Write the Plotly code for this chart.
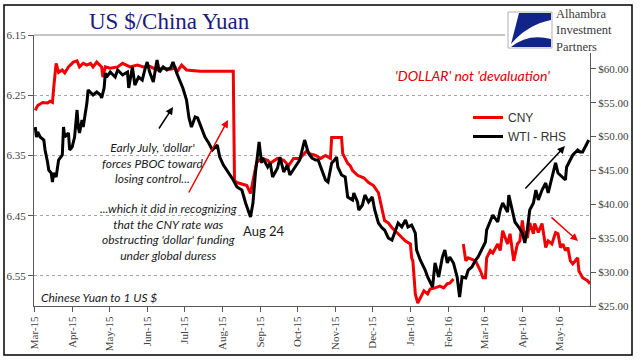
import plotly.graph_objects as go

# ---------------- data ----------------
cny_dates = ["2015-03-02","2015-03-04","2015-03-08","2015-03-12","2015-03-14","2015-03-16","2015-03-17","2015-03-19","2015-03-21","2015-03-24",
             "2015-03-26","2015-03-29","2015-04-02","2015-04-05","2015-04-07","2015-04-10","2015-04-13","2015-04-16","2015-04-18","2015-04-21",
             "2015-04-25","2015-04-26","2015-04-28","2015-05-02","2015-05-08","2015-05-12","2015-05-18","2015-05-24","2015-05-29","2015-06-03",
             "2015-06-09","2015-06-14","2015-06-20","2015-06-24","2015-06-25","2015-06-29","2015-07-03","2015-07-14","2015-08-10","2015-08-11",
             "2015-08-13","2015-08-17","2015-08-21","2015-08-24","2015-08-25","2015-08-28","2015-08-29","2015-09-02","2015-09-07","2015-09-09",
             "2015-09-15","2015-09-20","2015-09-24","2015-09-28","2015-10-03","2015-10-09","2015-10-11","2015-10-16","2015-10-20","2015-10-24",
             "2015-10-28","2015-10-29","2015-11-01","2015-11-03","2015-11-06","2015-11-07","2015-11-11","2015-11-13","2015-11-15","2015-11-19",
             "2015-11-24","2015-11-28","2015-12-02","2015-12-06","2015-12-09","2015-12-11","2015-12-14","2015-12-17","2015-12-22","2015-12-28",
             "2016-01-01","2016-01-02","2016-01-03","2016-01-05","2016-01-07","2016-01-11","2016-01-12","2016-01-15","2016-01-17","2016-01-21",
             "2016-01-25","2016-01-28","2016-01-31","2016-02-02","2016-02-05","2016-02-09","2016-02-13","2016-02-15","2016-02-17","2016-02-20",
             "2016-02-23","2016-02-27","2016-02-29","2016-03-02","2016-03-03","2016-03-06","2016-03-08","2016-03-12","2016-03-14","2016-03-16",
             "2016-03-20","2016-03-22","2016-03-25","2016-03-28","2016-03-30","2016-04-01","2016-04-02","2016-04-05","2016-04-07","2016-04-10",
             "2016-04-11","2016-04-14","2016-04-17","2016-04-20","2016-04-22","2016-04-25","2016-04-28","2016-04-30","2016-05-02","2016-05-04",
             "2016-05-06","2016-05-08","2016-05-10","2016-05-12","2016-05-16","2016-05-17","2016-05-20","2016-05-24","2016-05-26"]
cny_values = [6.275,6.267,6.262,6.263,6.260,6.262,6.238,6.197,6.212,6.208,
              6.213,6.203,6.195,6.193,6.203,6.197,6.200,6.197,6.203,6.195,
              6.203,6.220,6.203,6.205,6.203,6.197,6.203,6.200,6.203,6.202,
              6.208,6.205,6.207,6.205,6.212,6.200,6.208,6.210,6.210,6.392,
              6.395,6.397,6.400,6.413,6.403,6.375,6.362,6.355,6.358,6.363,
              6.355,6.358,6.367,6.355,6.355,6.342,6.347,6.350,6.355,6.350,
              6.355,6.320,6.320,6.320,6.320,6.347,6.363,6.367,6.375,6.383,
              6.387,6.395,6.400,6.412,6.442,6.458,6.462,6.470,6.480,6.492,
              6.497,6.520,6.525,6.580,6.595,6.580,6.575,6.580,6.572,6.570,
              6.567,6.570,6.563,6.562,6.555,None,6.497,6.525,6.520,6.522,
              6.525,6.542,6.553,6.553,6.520,6.508,6.512,6.497,6.508,6.475,
              6.497,6.480,6.525,6.497,6.492,6.458,6.475,6.487,6.462,6.480,
              6.463,6.478,6.463,6.503,6.492,6.497,6.478,6.480,6.503,6.497,
              6.508,6.503,6.525,6.530,6.520,6.542,6.553,6.558,6.563]

wti_dates = ["2015-03-02","2015-03-03","2015-03-04","2015-03-06","2015-03-09","2015-03-10","2015-03-12","2015-03-13","2015-03-15","2015-03-16",
             "2015-03-17","2015-03-19","2015-03-21","2015-03-24","2015-03-25","2015-03-26","2015-03-29","2015-03-30","2015-04-01","2015-04-03",
             "2015-04-05","2015-04-06","2015-04-07","2015-04-09","2015-04-10","2015-04-13","2015-04-14","2015-04-16","2015-04-18","2015-04-21",
             "2015-04-24","2015-04-25","2015-04-27","2015-04-28","2015-04-29","2015-05-02","2015-05-06","2015-05-08","2015-05-12","2015-05-16",
             "2015-05-17","2015-05-20","2015-05-22","2015-05-25","2015-05-28","2015-05-30","2015-06-01","2015-06-03","2015-06-06","2015-06-09",
             "2015-06-11","2015-06-14","2015-06-17","2015-06-20","2015-06-22","2015-06-25","2015-06-28","2015-06-30","2015-07-03","2015-07-05",
             "2015-07-07","2015-07-10","2015-07-12","2015-07-16","2015-07-18","2015-07-21","2015-07-24","2015-07-28","2015-07-30","2015-08-02",
             "2015-08-06","2015-08-10","2015-08-13","2015-08-17","2015-08-20","2015-08-24","2015-08-26","2015-08-28","2015-08-31","2015-09-02",
             "2015-09-03","2015-09-07","2015-09-09","2015-09-11","2015-09-15","2015-09-17","2015-09-20","2015-09-23","2015-09-25","2015-09-29",
             "2015-10-03","2015-10-07","2015-10-10","2015-10-13","2015-10-16","2015-10-18","2015-10-21","2015-10-24","2015-10-26","2015-10-29",
             "2015-10-30","2015-11-02","2015-11-03","2015-11-06","2015-11-09","2015-11-11","2015-11-15","2015-11-16","2015-11-19","2015-11-20",
             "2015-11-23","2015-11-25","2015-11-28","2015-12-01","2015-12-03","2015-12-06","2015-12-09","2015-12-11","2015-12-14","2015-12-17",
             "2015-12-20","2015-12-22","2015-12-25","2015-12-28","2015-12-30","2016-01-02","2016-01-05","2016-01-06","2016-01-09","2016-01-11",
             "2016-01-13","2016-01-15","2016-01-19","2016-01-21","2016-01-24","2016-01-27","2016-01-29","2016-01-31","2016-02-02","2016-02-05",
             "2016-02-08","2016-02-10","2016-02-12","2016-02-15","2016-02-17","2016-02-20","2016-02-23","2016-02-25","2016-02-28","2016-03-02",
             "2016-03-03","2016-03-06","2016-03-08","2016-03-12","2016-03-14","2016-03-16","2016-03-20","2016-03-21","2016-03-24","2016-03-26",
             "2016-03-29","2016-04-01","2016-04-03","2016-04-05","2016-04-07","2016-04-10","2016-04-12","2016-04-14","2016-04-17","2016-04-20",
             "2016-04-22","2016-04-25","2016-04-28","2016-04-30","2016-05-03","2016-05-06","2016-05-07","2016-05-10","2016-05-12","2016-05-16",
             "2016-05-18","2016-05-20","2016-05-24","2016-05-25"]
wti_values = [51.42,49.94,50.68,49.94,49.50,48.03,46.25,45.07,44.63,43.30,
              44.63,44.04,46.55,47.29,51.42,49.94,50.54,48.03,48.47,49.94,
              53.93,51.42,50.54,52.45,51.42,54.96,56.88,56.44,56.14,56.59,
              56.14,55.70,57.18,59.39,58.80,59.54,58.80,59.83,59.10,59.54,
              57.18,60.28,57.62,58.80,58.36,59.83,61.01,59.54,58.06,61.31,
              59.54,60.28,59.83,60.13,61.01,59.39,58.06,57.18,55.41,52.75,
              51.42,52.90,52.75,50.98,49.94,49.06,48.03,48.76,46.99,45.81,
              44.78,43.60,42.56,42.12,40.20,38.14,40.20,44.63,49.21,46.11,
              46.85,45.52,46.11,44.04,45.37,46.99,44.78,45.81,44.34,45.37,
              46.55,49.50,47.58,46.85,46.55,46.55,45.07,43.60,43.30,46.11,
              46.25,46.99,45.52,44.34,44.04,41.09,40.65,41.68,40.35,39.17,
              39.91,41.38,40.35,41.09,39.17,37.25,36.51,36.22,35.04,34.74,
              36.22,37.25,36.66,37.69,36.66,36.96,35.77,33.27,31.79,31.05,
              30.31,29.28,27.80,31.35,29.28,32.23,33.27,31.35,32.23,31.35,
              29.28,26.33,29.28,29.13,30.31,30.76,31.79,32.23,33.27,34.45,
              36.22,37.69,38.43,37.40,39.17,40.20,38.87,41.38,38.87,37.40,
              36.66,35.77,34.30,36.22,39.17,40.20,42.12,40.65,42.12,43.15,
              41.68,44.04,46.11,44.63,44.04,43.60,45.52,46.55,47.29,48.03,
              47.73,47.73,49.21,49.50]

cny_ticks = [6.15, 6.25, 6.35, 6.45, 6.55]
wti_ticks = [25, 30, 35, 40, 45, 50, 55, 60]

# ---------------- layout helpers ----------------
W, H = 641, 361
L, R, T, B = 34, 590, 35, 306


def px(x, y):
    return (x - L) / (R - L), (B - y) / (B - T)


fig = go.Figure()
fig.add_trace(go.Scatter(x=cny_dates, y=cny_values, name="CNY", mode="lines",
                         line=dict(color="#f00000", width=3), connectgaps=False, yaxis="y"))
fig.add_trace(go.Scatter(x=wti_dates, y=wti_values, name="WTI - RHS", mode="lines",
                         line=dict(color="#000000", width=3), yaxis="y2"))

serif = "Liberation Serif"
sans = "Lato"
tickcol = "#404040"

fig.update_layout(
    template="none",
    width=W, height=H,
    margin=dict(l=L, r=W - R, t=T, b=H - B, pad=0),
    paper_bgcolor="white", plot_bgcolor="white",
    showlegend=True,
    legend=dict(x=px(468, 0)[0], y=px(0, 103)[1], xanchor="left", yanchor="top",
                bgcolor="rgba(0,0,0,0)", font=dict(family="Liberation Sans", size=12, color="#333333"),
                itemwidth=30, tracegroupgap=0),
    xaxis=dict(type="date", range=["2015-03-01", "2016-05-26"], dtick="M1", tick0="2015-03-01",
               tickformat="%b-%y", tickangle=-90, ticks="outside", ticklen=5, tickcolor="#595959",
               showline=True, linecolor="#595959", linewidth=1, showgrid=False, zeroline=False,
               tickfont=dict(family=serif, size=11, color=tickcol), automargin=False),
    yaxis=dict(range=[6.60, 6.15], tickvals=cny_ticks, ticktext=[f"{v:.2f}" for v in cny_ticks],
               ticks="outside", ticklen=5, tickcolor="#595959", showline=True, linecolor="#595959",
               linewidth=1, showgrid=True, gridcolor="#a6a6a6", griddash="3px,3px", gridwidth=1,
               zeroline=False, tickfont=dict(family=serif, size=11, color=tickcol), automargin=False),
    yaxis2=dict(range=[25, 65], tickvals=wti_ticks, ticktext=[f"${v:.2f}" for v in wti_ticks],
                overlaying="y", side="right", ticks="outside", ticklen=5, tickcolor="#595959",
                showline=True, linecolor="#595959", linewidth=1, showgrid=False, zeroline=False,
                tickfont=dict(family=serif, size=11, color=tickcol), automargin=False),
)

shapes = []
# outer frame
fx0, fy1 = px(4, 5)
fx1, fy0 = px(632, 355)
shapes.append(dict(type="rect", xref="paper", yref="paper", x0=fx0, x1=fx1, y0=fy0, y1=fy1,
                   line=dict(color="#000000", width=1.5), layer="above"))
# top line at 6.15
tx1, _ = px(505, 0)
shapes.append(dict(type="line", xref="paper", yref="paper", x0=0, x1=tx1, y0=1, y1=1,
                   line=dict(color="#8c8c8c", width=1)))
# white patch behind logo text
a, b_ = px(553, 7)
c, d = px(630, 53)
shapes.append(dict(type="rect", xref="paper", yref="paper", x0=a, x1=c, y0=d, y1=b_,
                   fillcolor="white", line=dict(width=0), layer="above"))
# logo box
a, b_ = px(508, 12)
c, d = px(552, 48)
shapes.append(dict(type="rect", xref="paper", yref="paper", x0=a, x1=c, y0=d, y1=b_,
                   fillcolor="white", line=dict(color="#b0b0b0", width=1), layer="above"))


def path(pts):
    out = []
    for cmd, coords in pts:
        s = cmd
        for (x, y) in coords:
            X, Y = px(x, y)
            s += f" {X:.5f},{Y:.5f}"
        out.append(s)
    return " ".join(out) + " Z"


navy = "#10248a"
shapes.append(dict(type="path", xref="paper", yref="paper", layer="above",
                   path=path([("M", [(519, 13)]), ("L", [(551, 13)]), ("L", [(551, 20)]),
                              ("Q", [(527, 25), (511, 44)])]),
                   fillcolor=navy, line=dict(width=0)))
shapes.append(dict(type="path", xref="paper", yref="paper", layer="above",
                   path=path([("M", [(511, 47)]), ("Q", [(528, 33), (551, 39)]), ("L", [(551, 47)])]),
                   fillcolor=navy, line=dict(width=0)))
fig.update_layout(shapes=shapes)

ann = []


def text(x, y, s, size=12, color="#1a1a1a", family=sans, italic=True, xanchor="center", align="center"):
    X, Y = px(x, y)
    st = "italic" if italic else "normal"
    ann.append(dict(xref="paper", yref="paper", x=X, y=Y, text=s, showarrow=False,
                    xanchor=xanchor, yanchor="middle", align=align, borderpad=0,
                    font=dict(family=family, size=size, color=color, style=st)))


def arrow(x0, y0, x1, y1, color):
    X, Y = px(x1, y1)
    ann.append(dict(xref="paper", yref="paper", x=X, y=Y, ax=x0 - x1, ay=y0 - y1,
                    showarrow=True, arrowhead=2, arrowsize=1, arrowwidth=1.5, arrowcolor=color, text=""))


text(169, 22, "US $/China Yuan", size=23, color="#1c1c78", family=serif, italic=False)
text(472, 76, "'DOLLAR' not 'devaluation'", size=14, color="#e00000")
text(152, 163, "Early July, 'dollar'<br>forces PBOC toward<br>losing control...", size=12)
text(168, 232, "...which it did in recognizing<br>that the CNY rate was<br>obstructing 'dollar' funding<br>under global duress", size=12)
text(264, 231, "Aug 24", size=13, italic=False)
text(40, 297, "Chinese Yuan to 1 US $", size=12, xanchor="left")
text(555, 31, "Alhambra<br>Investment<br>Partners", size=12.5, color="#3a3a3a", family=serif,
     italic=False, xanchor="left", align="left")

arrow(158, 130, 173, 107, "#000000")
arrow(188, 194, 228, 120, "#f00000")
arrow(524, 190, 565, 146, "#000000")
arrow(550, 216, 578, 241, "#f00000")

fig.update_layout(annotations=ann)
fig.write_html("out.html", config={"displayModeBar": False},
               post_script="document.body.style.margin='0px';document.body.style.overflow='hidden';")
